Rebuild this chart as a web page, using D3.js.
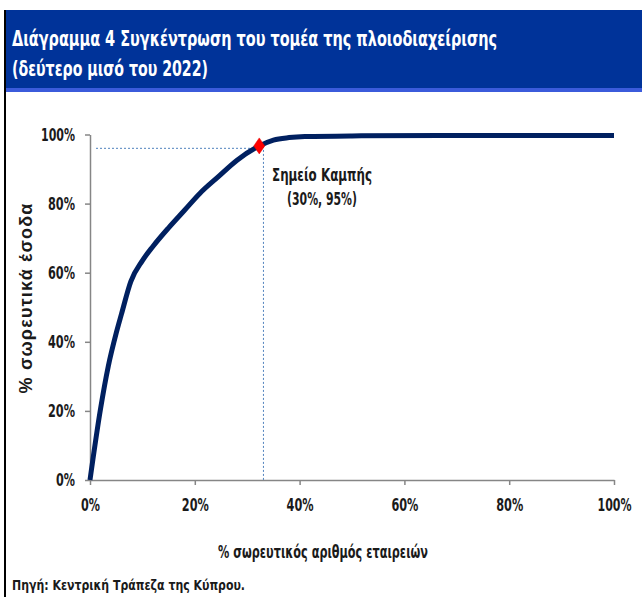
<!DOCTYPE html>
<html><head><meta charset="utf-8">
<script src="https://cdn.jsdelivr.net/npm/d3@7"></script>
<style>
html,body{margin:0;padding:0;background:#fff;}
svg{display:block;}
</style></head>
<body>
<script>
// Data
const cumFirms   = [0, 2, 3.5, 5, 6, 7.8, 10, 12, 15, 18, 21, 24.5, 28, 32.3, 35, 38, 41, 50, 67, 80, 100];
const cumRevenue = [0, 20.5, 33, 42.5, 48, 57.5, 63.5, 67.6, 73, 78, 83, 87.8, 92.5, 96.7, 98.4, 99.1, 99.4, 99.6, 99.7, 99.7, 99.7];
const kneeX = 32.3, kneeY = 96.7;
const guideX = 33.1, guideY = 96;
const xTicks = [0, 20, 40, 60, 80, 100];
const yTicks = [0, 20, 40, 60, 80, 100];
const titleLines = ["Διάγραμμα 4  Συγκέντρωση του τομέα της πλοιοδιαχείρισης", "(δεύτερο μισό του 2022)"];
const annotLines = ["Σημείο Καμπής", "(30%, 95%)"];
const xTitle = "% σωρευτικός αριθμός εταιρειών";
const yTitle = "% σωρευτικά έσοδα";
const sourceText = "Πηγή: Κεντρική Τράπεζα της Κύπρου.";

const W = 642, H = 597;
const cond = "'Liberation Sans Narrow','DejaVu Sans Condensed','Roboto Condensed',Arial,sans-serif";
const svg = d3.select("body").append("svg").attr("width", W).attr("height", H);

// frame
svg.append("rect").attr("x", 6).attr("y", 10).attr("width", W - 6).attr("height", 81).attr("fill", "#003399");
svg.append("rect").attr("x", 6).attr("y", 88).attr("width", W - 6).attr("height", 4).attr("fill", "#3b5bdb");
svg.append("rect").attr("x", 4).attr("y", 10).attr("width", 2).attr("height", H - 10).attr("fill", "#000");

// title
const tl = [[12, 46, 485], [12, 76, 196]];
titleLines.forEach((t, i) => {
  svg.append("text").attr("x", tl[i][0]).attr("y", tl[i][1]).text(t)
    .attr("fill", "#fff").attr("font-family", cond).attr("font-size", 22).attr("font-weight", "bold")
    .attr("textLength", tl[i][2]).attr("lengthAdjust", "spacingAndGlyphs");
});

const x = d3.scaleLinear().domain([0, 100]).range([90, 614]);
const y = d3.scaleLinear().domain([0, 100]).range([480, 134.5]);

const axisColor = "#868686";
const labelW = d => d >= 100 ? 34 : (d === 0 ? 19 : 27);
// y axis
const gy = svg.append("g").attr("transform", "translate(90,0)")
  .call(d3.axisLeft(y).tickValues(yTicks).tickFormat(d => d + "%").tickSize(5).tickSizeOuter(0).tickPadding(10));
// x axis
const gx = svg.append("g").attr("transform", "translate(0,480)")
  .call(d3.axisBottom(x).tickValues(xTicks).tickFormat(d => d + "%").tickSize(5).tickSizeOuter(0).tickPadding(13));
[gx, gy].forEach(g => {
  g.select(".domain").attr("stroke", axisColor).attr("stroke-width", 1.5);
  g.selectAll(".tick line").attr("stroke", axisColor).attr("stroke-width", 1.5);
  g.selectAll(".tick text").attr("fill", "#1a1a1a").attr("font-family", cond)
    .attr("font-weight", "bold").attr("font-size", 18)
    .attr("textLength", d => labelW(d)).attr("lengthAdjust", "spacingAndGlyphs");
});
gx.selectAll(".tick text").attr("dy", "0.71em");

// guides
const guideColor = "#4f81bd";
svg.append("line").attr("x1", 96).attr("x2", x(kneeX)).attr("y1", y(guideY)).attr("y2", y(guideY))
  .attr("stroke", guideColor).attr("stroke-width", 1).attr("stroke-dasharray", "2,2");
svg.append("line").attr("x1", x(guideX)).attr("x2", x(guideX)).attr("y1", y(kneeY)).attr("y2", y(0))
  .attr("stroke", guideColor).attr("stroke-width", 1).attr("stroke-dasharray", "2,2");

// curve
const pts = cumFirms.map((v, i) => [v, cumRevenue[i]]);
svg.append("path").datum(pts)
  .attr("d", d3.line().x(d => x(d[0])).y(d => y(d[1])).curve(d3.curveMonotoneX))
  .attr("fill", "none").attr("stroke", "#002060").attr("stroke-width", 5)
  .attr("stroke-linejoin", "round").attr("stroke-linecap", "butt");

// knee marker
const kx = x(kneeX), ky = y(kneeY);
svg.append("path").attr("d", `M${kx},${ky - 8}L${kx + 5.5},${ky}L${kx},${ky + 8}L${kx - 5.5},${ky}Z`)
  .attr("fill", "#ff0000").attr("stroke", "#e00000").attr("stroke-width", 0.5);

// annotation
const al = [[322, 181, 100], [322, 205, 70]];
annotLines.forEach((t, i) => {
  svg.append("text").attr("x", al[i][0]).attr("y", al[i][1]).attr("text-anchor", "middle").text(t)
    .attr("fill", "#1a1a1a").attr("font-family", cond).attr("font-size", 17).attr("font-weight", "bold")
    .attr("textLength", al[i][2]).attr("lengthAdjust", "spacingAndGlyphs");
});

// axis titles
svg.append("text").attr("transform", "translate(32,298) rotate(-90)").attr("text-anchor", "middle")
  .text(yTitle).attr("fill", "#1a1a1a").attr("font-family", "Arial,'Liberation Sans',sans-serif")
  .attr("font-weight", "bold").attr("font-size", 18).attr("letter-spacing", 1.2);
svg.append("text").attr("x", 323).attr("y", 558).attr("text-anchor", "middle").text(xTitle)
  .attr("fill", "#1a1a1a").attr("font-family", cond).attr("font-size", 18).attr("font-weight", "bold")
  .attr("textLength", 210).attr("lengthAdjust", "spacingAndGlyphs");

// source
svg.append("text").attr("x", 12).attr("y", 590).text(sourceText)
  .attr("fill", "#1a1a1a").attr("font-family", cond).attr("font-size", 14).attr("font-weight", "bold")
  .attr("textLength", 233).attr("lengthAdjust", "spacingAndGlyphs");
</script>
</body></html>
